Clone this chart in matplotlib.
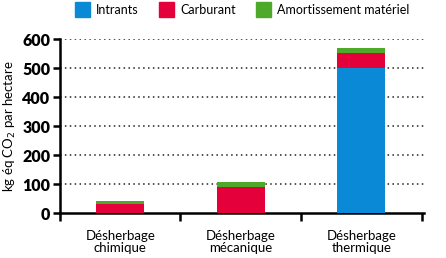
import matplotlib.pyplot as plt
from matplotlib.patches import Patch

categories = ['Désherbage\nchimique', 'Désherbage\nmécanique', 'Désherbage\nthermique']
intrants = [0, 0, 503]
carburant = [32, 92, 51]
amortissement = [10, 17, 16]
y_ticks = [0, 100, 200, 300, 400, 500, 600]

c_blue = '#0a8ad6'
c_red = '#e4003a'
c_green = '#4ea82a'

plt.rcParams['font.family'] = ['Lato', 'DejaVu Sans']

fig = plt.figure(figsize=(4.46, 2.58), dpi=100)
ax = fig.add_axes([0.1345, 0.173, 0.816, 0.674])

x = [1, 2, 3]
w = 0.4
ax.bar(x, intrants, width=w, color=c_blue, zorder=3)
base = [a + b for a, b in zip(intrants, carburant)]
ax.bar(x, carburant, width=w, bottom=intrants, color=c_red, zorder=3)
ax.bar(x, amortissement, width=w, bottom=base, color=c_green, zorder=3)

ax.set_xlim(0.5, 3.52)
ax.set_ylim(0, 600)
ax.set_yticks(y_ticks)
ax.set_yticklabels([str(v) for v in y_ticks], fontsize=11.5, fontweight='heavy')
ax.set_xticks(x)
ax.set_xticklabels(categories, fontsize=9.5, linespacing=1.0)
ax.tick_params(axis='x', which='major', length=0, pad=12)
ax.set_xticks([0.5, 1.5, 2.5, 3.5], minor=True)
ax.tick_params(axis='x', which='minor', length=6, width=1.8, direction='out')
ax.tick_params(axis='y', length=5, width=1.8, pad=2)

for v in y_ticks[1:]:
    ax.axhline(v, color='#222222', linestyle=(0, (1, 2.2)), linewidth=1.1, zorder=1)

for s in ['top', 'right']:
    ax.spines[s].set_visible(False)
ax.spines['left'].set_linewidth(1.8)
ax.spines['bottom'].set_linewidth(1.8)

ax.set_ylabel('kg éq CO$_2$ par hectare', fontsize=9.5, labelpad=3)

handles = [Patch(color=c_blue, label='Intrants'),
           Patch(color=c_red, label='Carburant'),
           Patch(color=c_green, label='Amortissement matériel')]
fig.legend(handles=handles, loc='upper center', bbox_to_anchor=(0.543, 1.035), ncol=3,
           frameon=False, fontsize=9, handlelength=1.2, handleheight=1.5,
           handletextpad=0.5, columnspacing=1.6)

fig.savefig('out.png', dpi=100)
